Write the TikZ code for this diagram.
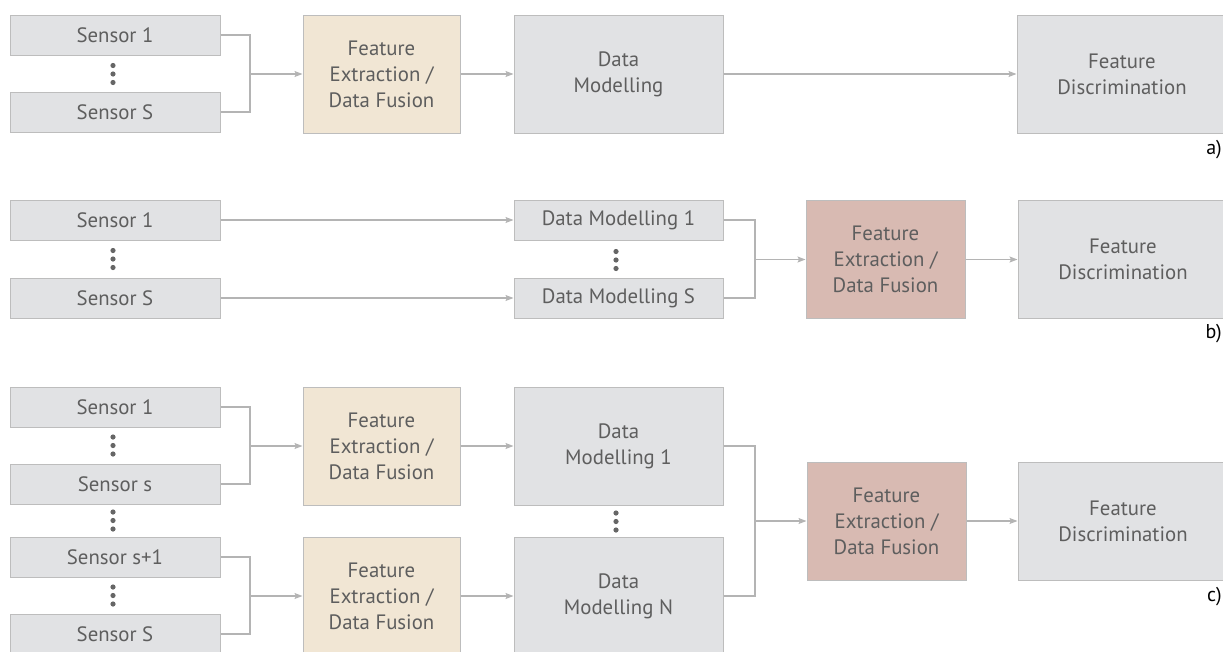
\documentclass[tikz,border=0pt]{standalone}
\usepackage{fontspec}
\setmainfont{PT Sans}
\usetikzlibrary{arrows.meta}
\definecolor{boxgray}{HTML}{E1E2E4}
\definecolor{boxline}{HTML}{BDBDBD}
\definecolor{fusion}{HTML}{F1E6D4}
\definecolor{fusionb}{HTML}{D8BAB2}
\definecolor{txtgray}{HTML}{5E5E5E}
\definecolor{linkgray}{HTML}{B4B4B4}
\definecolor{dotgray}{HTML}{666666}

\begin{document}
\begin{tikzpicture}[x=1pt, y=-1pt, >={Stealth[length=8pt, width=6pt, inset=1.5pt]},
  box/.style={draw=boxline, line width=1pt, fill=boxgray, text=txtgray,
    align=center, inner sep=0pt, font=\fontsize{20.8}{26}\selectfont},
  sensor/.style={box, minimum width=210pt, minimum height=40pt},
  dmod/.style={box, minimum width=209pt, minimum height=118pt},
  fex/.style={box, fill=fusion, minimum width=157pt, minimum height=118pt},
  fexb/.style={box, fill=fusionb, minimum width=159pt, minimum height=118pt},
  fdis/.style={box, minimum width=210pt, minimum height=118pt},
  link/.style={draw=linkgray, line width=1.2pt},
  tag/.style={anchor=east, inner sep=0pt, font=\fontsize{20}{24}\selectfont}]

\useasboundingbox (0,0) rectangle (1223,651);
\clip (0,0) rectangle (1223,651);

% ---- a) fuse first, then model ----
\node[sensor] (sa1) at (115,35) {Sensor 1};
\node[sensor] (saS) at (115,112) {Sensor S};
\node[fex] (fxa) at (381.5,74) {Feature\\Extraction /\\Data Fusion};
\node[dmod] (dma) at (618.5,74) {Data\\Modelling};
\node[fdis] (fda) at (1122,74) {Feature\\Discrimination};
\node[tag] (taga) at (1222,150) {a)};

\coordinate (ja) at (250,74);
\draw[link] (sa1.east) -| (ja);
\draw[link] (saS.east) -| (ja);
\draw[link,->] (ja) -- (fxa.west);
\draw[link,->] (fxa) -- (dma);
\draw[link,->] (dma) -- (fda);

% ---- b) model each sensor, then fuse ----
\node[sensor] (sb1) at (115,220) {Sensor 1};
\node[sensor] (sbS) at (115,298) {Sensor S};
\node[sensor, minimum width=209pt] (mb1) at (618.5,220) {Data Modelling 1};
\node[sensor, minimum width=209pt] (mbS) at (618.5,298) {Data Modelling S};
\node[fexb] (fxb) at (885.5,259.5) {Feature\\Extraction /\\Data Fusion};
\node[fdis] (fdb) at (1123,259.5) {Feature\\Discrimination};
\node[tag] (tagb) at (1222,334) {b)};

\draw[link,->] (sb1) -- (mb1);
\draw[link,->] (sbS) -- (mbS);
\coordinate (jb) at (755,259.5);
\draw[link] (mb1.east) -| (jb);
\draw[link] (mbS.east) -| (jb);
\draw[link,->] (jb) -- (fxb.west);
\draw[link,->] (fxb) -- (fdb);

% ---- c) fuse per group, model, fuse again ----
\node[sensor] (sc1) at (115,407) {Sensor 1};
\node[sensor] (scs) at (115,484) {Sensor s};
\node[sensor] (scs1) at (115,557) {Sensor s+1};
\node[sensor] (scS) at (115,634) {Sensor S};
\node[fex] (fxc1) at (381.5,446) {Feature\\Extraction /\\Data Fusion};
\node[fex] (fxc2) at (381.5,596) {Feature\\Extraction /\\Data Fusion};
\node[dmod] (mc1) at (618.5,446) {Data\\Modelling 1};
\node[dmod] (mcN) at (618.5,596) {Data\\Modelling N};
\node[fexb] (fxc3) at (886.5,521) {Feature\\Extraction /\\Data Fusion};
\node[fdis] (fdc) at (1123,521) {Feature\\Discrimination};
\node[tag] (tagc) at (1222,597) {c)};

\coordinate (jc1) at (250,446);
\coordinate (jc2) at (250,596);
\coordinate (jc3) at (755,521);
\draw[link] (sc1.east) -| (jc1);
\draw[link] (scs.east) -| (jc1);
\draw[link] (scs1.east) -| (jc2);
\draw[link] (scS.east) -| (jc2);
\draw[link,->] (jc1) -- (fxc1.west);
\draw[link,->] (jc2) -- (fxc2.west);
\draw[link,->] (fxc1) -- (mc1);
\draw[link,->] (fxc2) -- (mcN);
\draw[link] (mc1.east) -| (jc3);
\draw[link] (mcN.east) -| (jc3);
\draw[link,->] (jc3) -- (fxc3.west);
\draw[link,->] (fxc3) -- (fdc);

% vertical ellipses
\foreach \x/\y in {113/74, 113/259, 616/260, 113/445.5, 113/520.5, 113/595.5, 616/521.5}
  \foreach \d in {-8.5,0,8.5}
    \fill[dotgray] (\x,{\y+\d}) circle (2.6pt);

\end{tikzpicture}
\end{document}
